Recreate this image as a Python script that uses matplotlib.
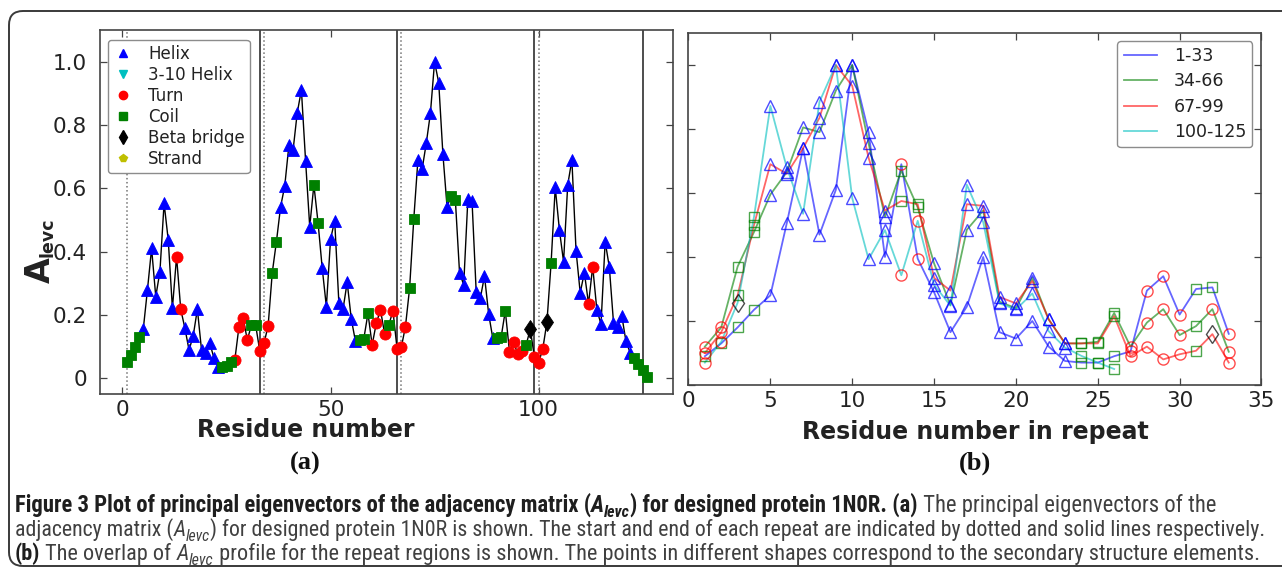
import matplotlib
matplotlib.use('Agg')
import matplotlib.pyplot as plt
from matplotlib.lines import Line2D
from matplotlib.patches import FancyBboxPatch
from matplotlib import font_manager

# ---------------- data ----------------
# panel (a): principal eigenvector value per residue and secondary structure code
residues = list(range(1, 127))
alevc = [0.05, 0.072, 0.10, 0.13, 0.155, 0.279, 0.41, 0.258, 0.337, 0.553,
         0.437, 0.221, 0.384, 0.218, 0.158, 0.089, 0.134, 0.218, 0.089, 0.079,
         0.11, 0.063, 0.035, 0.035, 0.04, 0.05, 0.058, 0.163, 0.19, 0.121,
         0.168, 0.168, 0.086, 0.11, 0.165, 0.334, 0.432, 0.542, 0.608, 0.737,
         0.721, 0.839, 0.911, 0.688, 0.479, 0.611, 0.492, 0.348, 0.226, 0.439,
         0.498, 0.239, 0.218, 0.303, 0.186, 0.116, 0.12, 0.125, 0.205, 0.105,
         0.174, 0.216, 0.14, 0.168, 0.213, 0.092, 0.097, 0.163, 0.284, 0.502,
         0.69, 0.66, 0.742, 0.837, 1.0, 0.934, 0.709, 0.542, 0.576, 0.563,
         0.334, 0.295, 0.565, 0.561, 0.274, 0.253, 0.323, 0.203, 0.126, 0.126,
         0.13, 0.213, 0.084, 0.113, 0.077, 0.085, 0.105, 0.155, 0.066, 0.049,
         0.092, 0.177, 0.363, 0.603, 0.469, 0.368, 0.611, 0.69, 0.403, 0.27,
         0.334, 0.235, 0.353, 0.216, 0.171, 0.432, 0.351, 0.176, 0.163, 0.197,
         0.116, 0.081, 0.063, 0.045, 0.026, 0.005]
# H helix, V 3-10 helix, T turn, C coil, B beta bridge, E strand
ss_codes = ("CCCC" "HHHHHHHH" "TT" "HHHHHHHHH" "CCC" "TTTT" "CC" "TTT" "CC"
            "HHHHHHHH" "CC" "HHHHHHHHH" "CCC" "TTTT" "C" "TTTT" "CC"
            "HHHHHHHH" "CC" "HHHHHHHHH" "CCC" "TTTT" "C" "B" "TTT" "B" "C"
            "HHHHHHHH" "TT" "HHHHHHHHH" "CCCC")
repeat_starts = [1, 34, 67, 100]
repeat_ends = [33, 66, 99, 125]

# panel (b): profiles of each repeat (normalised), position in repeat 1..n
rep_labels = ['1-33', '34-66', '67-99', '100-125']
rep1 = [0.09, 0.13, 0.18, 0.235, 0.28, 0.505, 0.74, 0.47, 0.61, 1.0, 0.79, 0.40,
        0.69, 0.395, 0.29, 0.165, 0.245, 0.40, 0.165, 0.145, 0.20, 0.12, 0.075,
        0.07, 0.07, 0.09, 0.105, 0.295, 0.34, 0.22, 0.30, 0.305, 0.16]
rep2 = [0.12, 0.18, 0.37, 0.478, 0.595, 0.665, 0.805, 0.79, 0.92, 1.0, 0.755,
        0.525, 0.67, 0.555, 0.38, 0.25, 0.485, 0.545, 0.26, 0.24, 0.335, 0.205,
        0.13, 0.13, 0.135, 0.225, 0.12, 0.195, 0.237, 0.156, 0.184, 0.237, 0.104]
rep3 = [0.10, 0.165, 0.28, 0.50, 0.69, 0.66, 0.74, 0.835, 1.0, 0.935, 0.71,
        0.545, 0.575, 0.565, 0.335, 0.295, 0.565, 0.56, 0.275, 0.255, 0.325,
        0.205, 0.13, 0.13, 0.13, 0.215, 0.09, 0.12, 0.08, 0.096, 0.107, 0.159, 0.07]
rep4 = [0.07, 0.135, 0.257, 0.525, 0.872, 0.68, 0.535, 0.885, 1.0, 0.584, 0.393,
        0.484, 0.343, 0.513, 0.313, 0.248, 0.626, 0.509, 0.255, 0.236, 0.286,
        0.168, 0.117, 0.091, 0.07, 0.05]
rep_ss = [ss_codes[0:33], ss_codes[33:66], ss_codes[66:99], ss_codes[99:125]]

ss_names = {'H': 'Helix', 'V': '3-10 Helix', 'T': 'Turn', 'C': 'Coil',
            'B': 'Beta bridge', 'E': 'Strand'}
ss_order = ['H', 'V', 'T', 'C', 'B', 'E']

# ---------------- styles ----------------
BLUE, GREEN, RED, CYAN, BLACK, YELLOW = '#0000ff', '#008000', '#ff0000', '#00bfbf', '#000000', '#bfbf00'
ss_style = {'H': ('^', BLUE, 8.6), 'V': ('v', CYAN, 8.6), 'T': ('o', RED, 8.0),
            'C': ('s', GREEN, 7.4), 'B': ('d', BLACK, 9.5), 'E': ('p', YELLOW, 8.0)}
rep_colors = [BLUE, GREEN, RED, CYAN]

plt.rcParams['font.family'] = ['DejaVu Sans']
W, H = 1282, 573
fig = plt.figure(figsize=(W / 100, H / 100), dpi=100)
fig.patch.set_facecolor('white')


def box(l, t, r, b):
    return [l / W, 1 - b / H, (r - l) / W, (b - t) / H]


axa = fig.add_axes(box(100, 30.2, 673, 394))
axb = fig.add_axes(box(688.5, 33, 1261.5, 385))

SPINE = '#444444'
TXT = '#222222'
for ax in (axa, axb):
    for s in ax.spines.values():
        s.set_color(SPINE)
        s.set_linewidth(1.2)
    ax.tick_params(direction='in', top=True, right=True, length=5, width=0.9,
                   color=SPINE, labelsize=15.5, labelcolor=TXT)
    ax.tick_params(axis='y', pad=9.5)
    ax.tick_params(axis='x', pad=4)

# ---- panel (a)
axa.plot(residues, alevc, color='k', lw=1.0, zorder=3)
for code in ss_order:
    m, c, ms = ss_style[code]
    xs = [r for r, s in zip(residues, ss_codes) if s == code]
    ys = [v for v, s in zip(alevc, ss_codes) if s == code]
    if xs:
        axa.plot(xs, ys, ls='none', marker=m, color=c, mec=c, mew=0.6, ms=ms, zorder=4)
for xs in repeat_starts:
    axa.axvline(xs, color='0.45', ls=':', lw=1.1, zorder=2)
for xe in repeat_ends:
    axa.axvline(xe, color='0.3', ls='-', lw=1.4, zorder=2)
axa.set_xlim(-5.4, 132.3)
axa.set_ylim(-0.05, 1.1)
axa.set_xticks([0, 50, 100])
axa.set_yticks([0, 0.2, 0.4, 0.6, 0.8, 1.0])
axa.set_yticklabels(['0', '0.2', '0.4', '0.6', '0.8', '1.0'])

handles = [Line2D([], [], ls='none', marker=ss_style[c][0], color=ss_style[c][1],
                  mec=ss_style[c][1], ms=ss_style[c][2] * 0.75) for c in ss_order]
leg_a = axa.legend(handles, [ss_names[c] for c in ss_order], loc='upper left',
                   bbox_to_anchor=(0.014, 0.973), borderaxespad=0, fontsize=12,
                   numpoints=1, fancybox=True, handlelength=1.2, handletextpad=0.9,
                   labelspacing=0.18, borderpad=0.3, framealpha=1)
leg_a.get_frame().set_edgecolor('0.55')
for t in leg_a.get_texts():
    t.set_color(TXT)

# ---- panel (b)
rep_vals = [rep1, rep2, rep3, rep4]
line_handles = []
for vals, codes, col, lab in zip(rep_vals, rep_ss, rep_colors, rep_labels):
    pos = list(range(1, len(vals) + 1))
    ln, = axb.plot(pos, vals, color=col, lw=1.3, alpha=0.6, label=lab, zorder=3)
    line_handles.append(ln)
    for code in ss_order:
        m, c, ms = ss_style[code]
        xs = [p for p, s in zip(pos, codes) if s == code]
        ys = [v for v, s in zip(vals, codes) if s == code]
        if xs:
            axb.plot(xs, ys, ls='none', marker=m, mfc='none', mec=c, mew=1.0,
                     ms=ms * 1.0, alpha=0.7, zorder=4)
axb.set_xlim(0, 35)
axb.set_ylim(0, 1.1)
axb.set_xticks(range(0, 36, 5))
axb.set_yticks([0, 0.2, 0.4, 0.6, 0.8, 1.0])
axb.set_yticklabels([])
leg_b = axb.legend(handles=line_handles, loc='upper right', bbox_to_anchor=(0.984, 0.977),
                   borderaxespad=0, fontsize=12.5, fancybox=True, handlelength=1.9,
                   handletextpad=1.0, labelspacing=0.42, borderpad=0.35, framealpha=1)
leg_b.get_frame().set_edgecolor('0.55')
for t in leg_b.get_texts():
    t.set_color(TXT)

# ---- axis labels and panel letters
def ftext(x, y, s, **kw):
    return fig.text(x / W, 1 - y / H, s, **kw)

ftext(306, 430, 'Residue number', ha='center', va='center', fontsize=17,
      fontweight='bold', color=TXT)
ftext(975, 432, 'Residue number in repeat', ha='center', va='center', fontsize=17,
      fontweight='bold', color=TXT)
ftext(40, 270, 'A', ha='center', va='center', rotation=90, fontsize=24,
      fontweight='bold', color=TXT)
ftext(47, 237, 'levc', ha='center', va='center', rotation=90, fontsize=12.5,
      fontweight='bold', color=TXT)
ftext(305, 463, '(a)', ha='center', va='center', fontsize=19, fontweight='bold',
      family='Liberation Serif', color='#111111')
ftext(975, 463, '(b)', ha='center', va='center', fontsize=19, fontweight='bold',
      family='Liberation Serif', color='#111111')

# ---- caption
names = {f.name for f in font_manager.fontManager.ttflist}
cap_family = 'DejaVu Sans'
for n in ['Liberation Sans Narrow', 'Roboto Condensed', 'Open Sans Condensed', 'Noto Sans']:
    if n in names:
        cap_family = n
        break

renderer = fig.canvas.get_renderer()


def text_width(s, **kw):
    t = fig.text(0, 0, '|' + s + '|', **kw)
    w1 = t.get_window_extent(renderer).width
    t.remove()
    t = fig.text(0, 0, '||', **kw)
    w0 = t.get_window_extent(renderer).width
    t.remove()
    return w1 - w0


def seg_kw(seg, fs):
    s, wt, st, sub = seg
    return dict(fontsize=fs * (0.72 if sub else 1.0), fontweight=wt, fontstyle=st,
                family=cap_family)


def draw_line(segs, x0, x1, baseline, fs0):
    fs = fs0
    for _ in range(2):
        tot = sum(text_width(sg[0], **seg_kw(sg, fs)) for sg in segs)
        fs = fs * (x1 - x0) / tot
    x = x0
    for sg in segs:
        kw = seg_kw(sg, fs)
        col = '#1e1e1e' if sg[1] == 'bold' else '#404040'
        dy = fs * 100 / 72 * 0.22 if sg[3] else 0
        fig.text(x / W, 1 - (baseline + dy) / H, sg[0], ha='left', va='baseline',
                 color=col, **kw)
        x += text_width(sg[0], **kw)


B, R = 'bold', 'normal'
line1 = [("Figure 3 Plot of principal eigenvectors of the adjacency matrix (", B, 'normal', False),
         ("A", B, 'italic', False), ("levc", B, 'italic', True),
         (") for designed protein 1N0R. (a)", B, 'normal', False),
         (" The principal eigenvectors of the", R, 'normal', False)]
line2 = [("adjacency matrix (", R, 'normal', False), ("A", R, 'italic', False),
         ("levc", R, 'italic', True),
         (") for designed protein 1N0R is shown. The start and end of each repeat are indicated by dotted and solid lines respectively.", R, 'normal', False)]
line3 = [("(b)", B, 'normal', False), (" The overlap of ", R, 'normal', False),
         ("A", R, 'italic', False), ("levc", R, 'italic', True),
         (" profile for the repeat regions is shown. The points in different shapes correspond to the secondary structure elements.", R, 'normal', False)]
draw_line(line1, 15, 1215, 512, 14)
draw_line(line2, 15, 1266, 536, 14)
draw_line(line3, 15, 1262, 560, 14)

# ---- outer rounded frame
frame = FancyBboxPatch((9, 7), 1320, 555, boxstyle='round,pad=0,rounding_size=14',
                       transform=None, fill=False, ec='#3a3a3a', lw=1.4)
fig.patches.append(frame)

fig.savefig('out.png', dpi=100, facecolor='white')
